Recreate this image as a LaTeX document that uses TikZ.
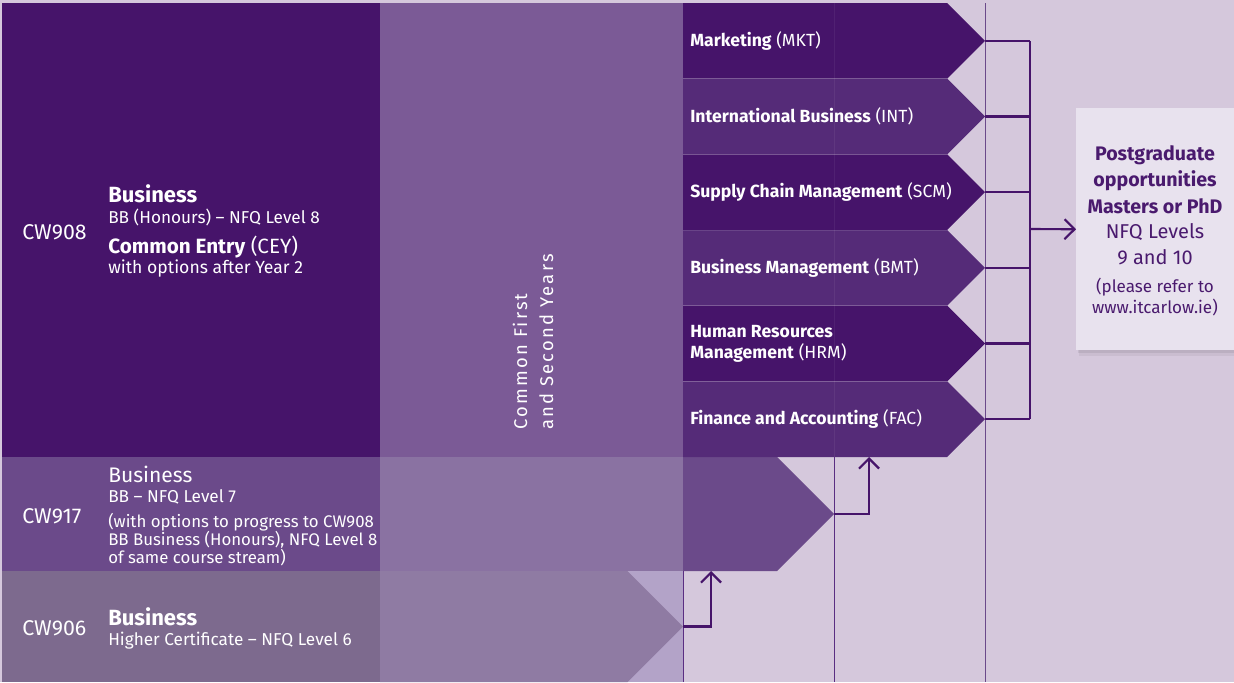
\documentclass[tikz,border=0pt]{standalone}
\usepackage{fontspec}
\setmainfont{Fira Sans}
\usetikzlibrary{arrows.meta}
\definecolor{bg}{HTML}{D5C8DC}
\definecolor{dk}{HTML}{46146A}
\definecolor{dkb}{HTML}{552B78}
\definecolor{midc}{HTML}{7B5A96}
\definecolor{rsev}{HTML}{6B4A8A}
\definecolor{rsevm}{HTML}{8A72A2}
\definecolor{rsix}{HTML}{7D6A8E}
\definecolor{rsixm}{HTML}{8F7BA3}
\definecolor{ovl}{HTML}{B3A3C8}
\definecolor{boxc}{HTML}{E8E2EE}
\definecolor{txtd}{HTML}{4A1A6E}
\definecolor{vlc}{HTML}{5A2E82}
\newcommand\fsz[2]{\fontsize{#1}{#2}\selectfont}
\begin{document}
\begin{tikzpicture}[x=0.75pt,y=-0.75pt,
  wt/.style={text=white, inner sep=0pt, anchor=west, align=left},
  codelbl/.style={wt, font=\fsz{16}{18}},
  headb/.style={wt, font=\fsz{16.5}{19}\bfseries},
  headr/.style={wt, font=\fsz{15.8}{19}},
  sub/.style={wt, font=\fsz{12.9}{13.5}},
  chevtxt/.style={wt, font=\fsz{13.2}{15.75}},
  pgb/.style={text=txtd, inner sep=0pt, font=\fsz{14.7}{16}\bfseries},
  pgr/.style={text=txtd, inner sep=0pt, font=\fsz{15}{16}},
  pgs/.style={text=txtd, inner sep=0pt, font=\fsz{12.8}{14}},
  vl/.style={draw=vlc, line width=0.75pt},
  br/.style={draw=dk, line width=1.6pt},
  brarrow/.style={br, -{Straight Barb[length=7.5pt,width=15pt]}}
]
\useasboundingbox (0,0) rectangle (1234,682);
\fill[bg] (0,0) rectangle (1234,682);

% CW906 row
\fill[ovl] (380,571) rectangle (683,682);
\fill[rsix] (2,571) rectangle (380,682);
\fill[rsixm] (380,571) -- (627.5,571) -- (683,626.5) -- (627.5,682) -- (380,682) -- cycle;
\coordinate (t906) at (683,626.5);

% CW917 row
\fill[rsev] (2,457) rectangle (380,571);
\fill[rsevm] (380,457) rectangle (683,571);
\fill[rsev] (683,457) -- (777,457) -- (834,514) -- (777,571) -- (683,571) -- cycle;
\coordinate (t917) at (834,514);
\coordinate (arr917) at (711,571);

% CW908 block and common column
\fill[dk] (2,3) rectangle (380,457);
\fill[midc] (380,3) rectangle (683,457);

% chevrons
\foreach \i/\c in {0/dk,1/dkb,2/dk,3/dkb,4/dk,5/dkb} {
  \pgfmathsetmacro\t{3+75.667*\i}
  \pgfmathsetmacro\b{\t+75.667}
  \pgfmathsetmacro\m{\t+37.833}
  \fill[\c] (683,\t) -- (947.17,\t) -- (985,\m) -- (947.17,\b) -- (683,\b) -- cycle;
  \coordinate (tip\i) at (985,\m);
  \coordinate (lab\i) at (690,\m);
}
\foreach \i in {1,...,5} {
  \pgfmathsetmacro\t{3+75.667*\i}
  \draw[white, opacity=0.12, line width=0.6pt] (683,\t) -- (947.17,\t);
}
\draw[white, opacity=0.06, line width=0.75pt] (834,3) -- (834,457);
\coordinate (arrfac) at (869,457);

% vertical lines
\draw[vl] (683,571) -- (683,682);
\draw[vl] (834,457) -- (834,682);
\draw[draw=rsev, line width=0.75pt] (985,3) -- (985,682);

% chevron labels
\node[chevtxt] (nmkt) at (lab0) {\textbf{Marketing} (MKT)};
\node[chevtxt] (nint) at (lab1) {\textbf{International Business} (INT)};
\node[chevtxt] (nscm) at (lab2) {\textbf{Supply Chain Management} (SCM)};
\node[chevtxt] (nbmt) at (lab3) {\textbf{Business Management} (BMT)};
\node[chevtxt] (nhrm) at (lab4) {\textbf{Human Resources}\\\textbf{Management} (HRM)};
\node[chevtxt] (nfac) at (lab5) {\textbf{Finance and Accounting} (FAC)};

% left texts CW908
\node[codelbl] (c908) at (22,232) {CW908};
\node[headb] (h908) at (108,194) {Business};
\node[sub] (s908a) at (108,217) {BB (Honours) – NFQ Level 8};
\node[wt, font=\fsz{15.5}{17}] (s908b) at (108,247) {\textbf{Common Entry} (CEY)};
\node[wt, font=\fsz{13.2}{15}] (s908c) at (108,269) {with options after Year 2};

% CW917
\node[codelbl] (c917) at (22,516) {CW917};
\node[headr] (h917) at (108,474) {Business};
\node[sub] (s917a) at (108,497) {BB – NFQ Level 7};
\node[wt, font=\fsz{12.6}{13.5}] (s917b) at (108,540) {(with options to progress to CW908\\BB Business (Honours), NFQ Level 8\\of same course stream)};

% CW906
\node[codelbl] (c906) at (22,628) {CW906};
\node[headb] (h906) at (108,617) {Business};
\node[sub] (s906a) at (108,641) {Higher Certificate – NFQ Level 6};

% vertical common text
\node[text=white, inner sep=0pt, rotate=90, align=left,
      font=\fsz{13.8}{19.5}\addfontfeatures{LetterSpace=12}] (cfy) at (533,342)
      {Common First\\and Second Years};

% postgraduate box
\fill[black, opacity=0.05] (1079,111) rectangle (1234,356);
\fill[black, opacity=0.07] (1078,110) rectangle (1234,353);
\node[fill=boxc, draw=none, inner sep=0pt, anchor=north west,
      minimum width=118.5pt, minimum height=181.5pt] (pgbox) at (1076,108) {};
\node[pgb] (p1) at (1155,155) {Postgraduate};
\node[pgb] (p2) at (1155,181) {opportunities};
\node[pgb] (p3) at (1155,206) {Masters or PhD};
\node[pgr] (p4) at (1155,232) {NFQ Levels};
\node[pgr] (p5) at (1155,257) {9 and 10};
\node[pgs] (p6) at (1155,287) {(please refer to};
\node[pgs] (p7) at (1155,308) {www.itcarlow.ie)};

% bracket
\coordinate (bx) at (1030,0);
\foreach \i in {0,...,5} { \draw[br] (tip\i) -- (tip\i -| bx); }
\draw[br] (tip0 -| bx) -- (tip5 -| bx);
\coordinate (bm) at (1030,229);
\draw[brarrow] (bm) -- (pgbox.west);

% upward arrows
\draw[brarrow] (t906) -| (arr917);
\draw[brarrow] (t917) -| (arrfac);
\end{tikzpicture}
\end{document}
